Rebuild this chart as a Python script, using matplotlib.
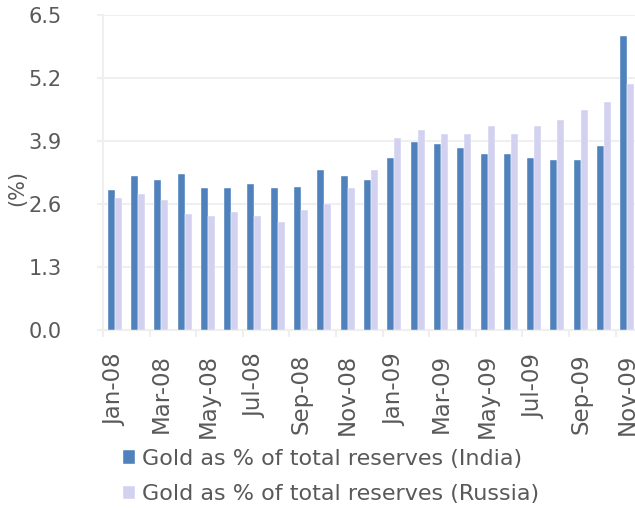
import numpy as np
import matplotlib
matplotlib.use("Agg")
import matplotlib.pyplot as plt

# monthly values, Jan-08 .. Nov-09
months = ['Jan-08', 'Feb-08', 'Mar-08', 'Apr-08', 'May-08', 'Jun-08',
          'Jul-08', 'Aug-08', 'Sep-08', 'Oct-08', 'Nov-08', 'Dec-08',
          'Jan-09', 'Feb-09', 'Mar-09', 'Apr-09', 'May-09', 'Jun-09',
          'Jul-09', 'Aug-09', 'Sep-09', 'Oct-09', 'Nov-09']
india = [2.88, 3.17, 3.09, 3.21, 2.92, 2.92, 3.01, 2.92, 2.96, 3.30, 3.17, 3.09,
         3.54, 3.87, 3.83, 3.75, 3.63, 3.63, 3.54, 3.50, 3.50, 3.79, 6.06]
russia = [2.72, 2.80, 2.68, 2.39, 2.35, 2.43, 2.35, 2.22, 2.47, 2.59, 2.92, 3.30,
          3.96, 4.12, 4.04, 4.04, 4.20, 4.04, 4.20, 4.33, 4.53, 4.70, 5.07]
yticks = [0.0, 1.3, 2.6, 3.9, 5.2, 6.5]

india_color = '#4f81bd'
russia_color = '#d2d2f0'
grid_color = '#efefef'
text_color = '#595959'


def main():
    fig = plt.figure(figsize=(6.35, 5.08), dpi=100)
    ax = fig.add_axes([103 / 635, 178 / 508, 536 / 635, 315 / 508])

    x = np.arange(len(months))
    w = 0.3
    ax.bar(x - w / 2, india, w, color=india_color, edgecolor='white',
           linewidth=0.3, label='Gold as % of total reserves (India)', zorder=3)
    ax.bar(x + w / 2, russia, w, color=russia_color, edgecolor='white',
           linewidth=0.3, label='Gold as % of total reserves (Russia)', zorder=3)

    ax.set_xlim(-0.5, len(months) - 0.5)
    ax.set_ylim(0, 6.5)
    ax.set_yticks(yticks)
    ax.set_yticklabels(['%.1f' % v for v in yticks])
    ax.yaxis.grid(True, color=grid_color, linewidth=1.5, zorder=0)

    ax.set_xticks(x[::2])
    ax.set_xticklabels(months[::2], rotation=90)
    ax.set_xticks(np.arange(-0.5, len(months), 2), minor=True)
    ax.tick_params(axis='x', which='major', length=0, pad=17,
                   labelsize=16.5, colors=text_color)
    ax.tick_params(axis='x', which='minor', length=5, width=1.5,
                   color=grid_color)
    ax.tick_params(axis='y', length=4, width=1.5, color=grid_color,
                   labelsize=15, labelcolor=text_color, pad=26)

    for side in ['top', 'right']:
        ax.spines[side].set_visible(False)
    for side in ['left', 'bottom']:
        ax.spines[side].set_color(grid_color)
        ax.spines[side].set_linewidth(1.5)

    fig.text(17 / 635, 1 - 188 / 508, '(%)', rotation=90, ha='center',
             va='center', fontsize=15, color=text_color)

    fig.legend(loc='upper left', bbox_to_anchor=(123 / 635, 1 - 449 / 508),
               frameon=False, fontsize=16, labelcolor=text_color,
               handlelength=0.55, handleheight=0.55, handletextpad=0.3,
               labelspacing=0.68, borderpad=0, borderaxespad=0)

    fig.savefig('out.png', dpi=100)


if __name__ == '__main__':
    main()
